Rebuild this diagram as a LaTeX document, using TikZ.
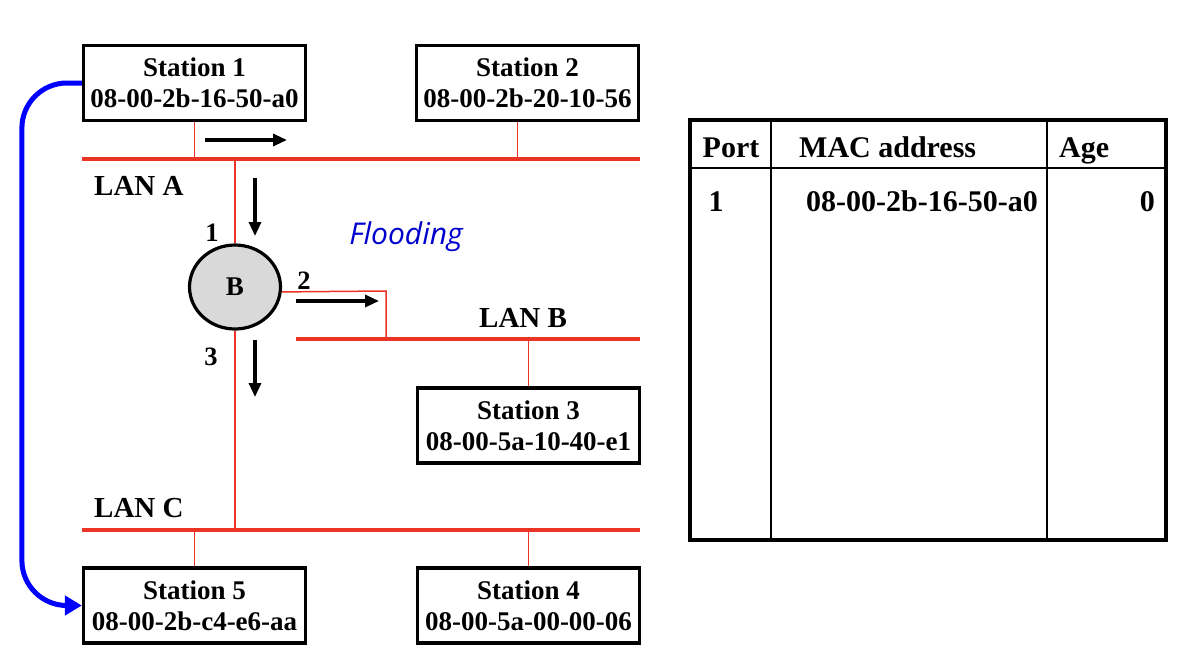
\documentclass[tikz,border=0pt]{standalone}
\usepackage{fontspec}
\setmainfont{Liberation Serif}
\newfontfamily\floodfont{Open Sans}
\usetikzlibrary{shapes.geometric,arrows.meta}
\definecolor{lanred}{RGB}{235,52,38}
\definecolor{bgray}{RGB}{217,217,217}
\definecolor{fblue}{RGB}{0,0,204}
\tikzset{
  station/.style={draw=black, line width=3.2pt, minimum width=222pt, minimum height=75pt,
    inner sep=0pt, align=center, font=\fontsize{27}{31}\selectfont\bfseries},
  lan/.style={draw=lanred, line width=3.5pt},
  drop/.style={draw=lanred, line width=1.5pt},
  flow/.style={draw=black, line width=3.2pt, -{Triangle[length=14pt,width=12pt]}},
  lbl/.style={inner sep=0pt, font=\fontsize{29}{32}\selectfont\bfseries},
  port/.style={inner sep=0pt, font=\fontsize{26.5}{30}\selectfont\bfseries},
  tbl/.style={inner sep=0pt, font=\fontsize{30}{33}\selectfont\bfseries},
  learn/.style={draw=blue, line width=5pt, rounded corners=45pt, -{Triangle[length=17pt,width=19pt]}}
}
\begin{document}
\begin{tikzpicture}[x=1pt,y=-1pt]
\useasboundingbox (0,0) rectangle (1186,664);
% stations
\node[station] (s1) at (194.5,83) {Station 1\\08-00-2b-16-50-a0};
\node[station] (s2) at (527.5,83) {Station 2\\08-00-2b-20-10-56};
\node[station] (s3) at (528.5,425.5) {Station 3\\08-00-5a-10-40-e1};
\node[station] (s5) at (194.5,605.5) {Station 5\\08-00-2b-c4-e6-aa};
\node[station] (s4) at (528.5,605.5) {Station 4\\08-00-5a-00-00-06};
% bridge
\node[ellipse, draw=black, fill=bgray, line width=3.2pt, minimum width=91pt, minimum height=84pt,
  inner sep=0pt, font=\fontsize{27}{30}\selectfont\bfseries] (br) at (235,287) {B};
% LAN coordinates
\coordinate (lanAw) at (82,159);
\coordinate (lanAe) at (640,159);
\coordinate (lanBw) at (296,339);
\coordinate (lanBe) at (640,339);
\coordinate (lanCw) at (82,530);
\coordinate (lanCe) at (640,530);
\coordinate (p2) at (386,291);
% drops and bridge links
\draw[drop] (s1.south) -- (s1.south |- lanAw);
\draw[drop] ([xshift=-10pt]s2.south) -- ([xshift=-10pt]s2.south |- lanAw);
\draw[drop] (s3.north) -- (s3.north |- lanBw);
\draw[drop] (s5.north) -- (s5.north |- lanCw);
\draw[drop] (s4.north) -- (s4.north |- lanCw);
\draw[drop] (br.north) -- (br.north |- lanAw);
\draw[drop] (br.south) -- (br.south |- lanCw);
\draw[drop] (br.-6) -- (p2) -- (p2 |- lanBw);
% LANs
\draw[lan] (lanAw) -- (lanAe);
\draw[lan] (lanBw) -- (lanBe);
\draw[lan] (lanCw) -- (lanCe);
% labels
\node[lbl, anchor=west] (la) at (94,186) {LAN A};
\node[lbl, anchor=west] (lb) at (479,318) {LAN B};
\node[lbl, anchor=west] (lc) at (94,508) {LAN C};
\node[port] (n1) at (212,233) {1};
\node[port] (n2) at (304,281) {2};
\node[port] (n3) at (211,357) {3};
\node[inner sep=0pt, text=fblue, font=\floodfont\itshape\fontsize{30}{33}\selectfont] (fl) at (406,237) {Flooding};
% flow arrows
\coordinate (a1s) at (205,140); \coordinate (a1e) at (287,140);
\coordinate (a2s) at (255,178); \coordinate (a2e) at (255,236);
\coordinate (a3s) at (296,301); \coordinate (a3e) at (379,301);
\coordinate (a4s) at (255,340); \coordinate (a4e) at (255,397);
\draw[flow] (a1s) -- (a1e);
\draw[flow] (a2s) -- (a2e);
\draw[flow] (a3s) -- (a3e);
\draw[flow] (a4s) -- (a4e);
% learning arrow
\draw[learn] (s1.west) -| ([xshift=-60pt]s5.west) -- (s5.west);
% table
\coordinate (tnw) at (690,120);
\coordinate (tse) at (1166,540);
\draw[line width=2pt] (690,168) -- (1166,168);
\draw[line width=2pt] (771,120) -- (771,540);
\draw[line width=2pt] (1047,120) -- (1047,540);
\draw[line width=3.5pt] (tnw) rectangle (tse);
\node[tbl, anchor=base] (hport) at (731,157.5) {Port};
\node[tbl, anchor=base west] (hmac) at (799,157.5) {MAC address};
\node[tbl, anchor=base west] (hage) at (1059,157.5) {Age};
\node[tbl, anchor=base] (rport) at (716,211.5) {1};
\node[tbl, anchor=base east] (rmac) at (1038,211.5) {08-00-2b-16-50-a0};
\node[tbl, anchor=base east] (rage) at (1155,211.5) {0};
\end{tikzpicture}
\end{document}
